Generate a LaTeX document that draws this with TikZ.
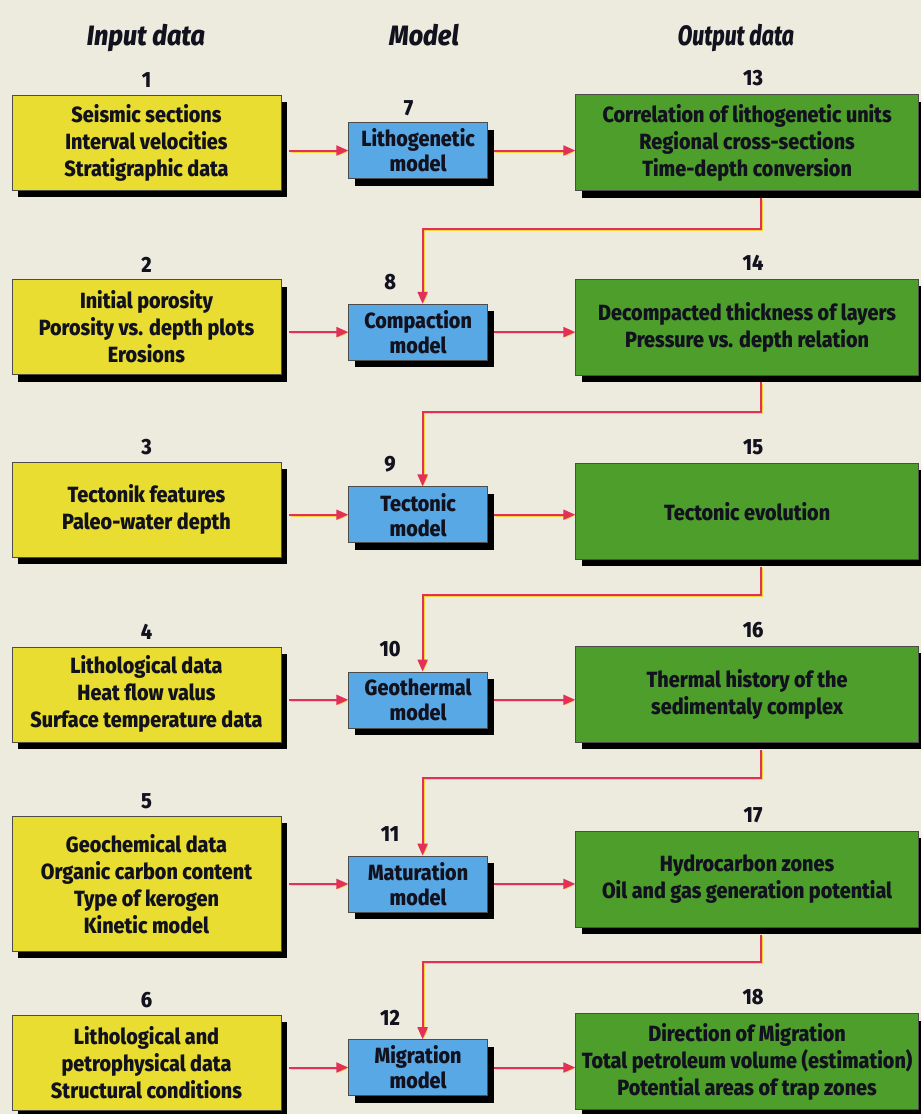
\documentclass[tikz,border=0pt]{standalone}
\usepackage{fontspec}
\setmainfont{Fira Sans}[FakeStretch=0.9, BoldFont={Fira Sans ExtraBold}, BoldItalicFont={Fira Sans ExtraBold Italic}]
\usepackage{tikz}
\usetikzlibrary{positioning,arrows.meta,shadows}

\definecolor{paper}{RGB}{237,234,222}
\definecolor{inyellow}{RGB}{232,221,48}
\definecolor{modblue}{RGB}{88,168,230}
\definecolor{outgreen}{RGB}{78,158,44}
\definecolor{ink}{RGB}{18,18,30}
\definecolor{linkred}{RGB}{226,48,88}
\definecolor{linkyellow}{RGB}{246,214,58}

\tikzstyle{boxbase} = [rectangle, draw=black!70, line width=0.6pt, text=ink, align=center,
                       font=\bfseries\fontsize{22}{27}\selectfont,
                       drop shadow={shadow xshift=6pt, shadow yshift=-7pt, fill=black, opacity=1}]
\tikzstyle{input} = [boxbase, fill=inyellow, minimum width=269pt, minimum height=95pt]
\tikzstyle{model} = [boxbase, fill=modblue, minimum width=139pt, minimum height=56pt,
                     font=\bfseries\fontsize{22}{25}\selectfont]
\tikzstyle{output} = [boxbase, fill=outgreen, minimum width=343pt, minimum height=96pt]
\tikzstyle{num} = [text=ink, inner sep=0pt, font=\bfseries\fontsize{22}{22}\selectfont]
\tikzstyle{heading} = [text=ink, inner sep=0pt, anchor=base, font=\bfseries\itshape\fontsize{28}{28}\selectfont]
\tikzstyle{arrow} = [line width=2pt, draw=linkred, -{Triangle[length=12pt, width=10pt]},
                     preaction={draw=linkyellow, transform canvas={shift={(1.2pt,-1.2pt)}}}]

\begin{document}
\begin{tikzpicture}[x=1pt, y=1pt]

		\fill [paper] (0,0) rectangle (921,-1114);
		\useasboundingbox (0,0) rectangle (921,-1114);

		% Column headings
		\node (head_in) [heading] at (146,-45) {Input data};
		\node (head_mod) [heading] at (424,-45) {Model};
		\node (head_out) [heading] at (736,-45) {\addfontfeature{FakeStretch=0.76}Output data};

		% Input boxes
		\node (seis_in) [input] at (146.5,-142.5) {Seismic sections\\Interval velocities\\Stratigraphic data};
		\node (poro_in) [input, below=89pt of seis_in] {Initial porosity\\Porosity vs. depth plots\\Erosions};
		\node (tect_in) [input, below=87pt of poro_in] {Tectonik features\\Paleo-water depth};
		\node (heat_in) [input, below=89pt of tect_in] {Lithological data\\Heat flow valus\\Surface temperature data};
		\node (geoch_in) [input, minimum height=135pt, below=74pt of heat_in] {Geochemical data\\Organic carbon content\\Type of kerogen\\Kinetic model};
		\node (petro_in) [input, below=63pt of geoch_in] {Lithological and\\petrophysical data\\Structural conditions};

		% Models
		\node (litho_mod) [model, right=67pt of seis_in, yshift=-8pt] {Lithogenetic\\model};
		\node (compact_mod) [model, right=67pt of poro_in, yshift=-5pt] {Compaction\\model};
		\node (tect_mod) [model, right=67pt of tect_in, yshift=-5pt] {Tectonic\\model};
		\node (geoth_mod) [model, right=67pt of heat_in, yshift=-5.5pt] {Geothermal\\model};
		\node (matur_mod) [model, right=67pt of geoch_in] {Maturation\\model};
		\node (migr_mod) [model, right=67pt of petro_in, yshift=-5pt] {Migration\\model};

		% Output boxes
		\node (correl_out) [output, right=294pt of seis_in] {Correlation of lithogenetic units\\Regional cross-sections\\Time-depth conversion};
		\node (decomp_out) [output, right=294pt of poro_in] {Decompacted thickness of layers\\Pressure vs. depth relation};
		\node (tectevo_out) [output, right=294pt of tect_in, yshift=-1.5pt] {Tectonic evolution};
		\node (thermal_out) [output, right=294pt of heat_in] {Thermal history of the\\sedimentaly complex};
		\node (hydroc_out) [output, right=294pt of geoch_in, yshift=4.5pt] {Hydrocarbon zones\\Oil and gas generation potential};
		\node (migdir_out) [output, right=294pt of petro_in, yshift=1pt] {Direction of Migration\\Total petroleum volume (estimation)\\Potential areas of trap zones};

		% Numbers
		\node (n1) [num, above=7pt of seis_in] {1};
		\node (n2) [num, above=7pt of poro_in] {2};
		\node (n3) [num, above=7pt of tect_in] {3};
		\node (n4) [num, above=7pt of heat_in] {4};
		\node (n5) [num, above=7pt of geoch_in] {5};
		\node (n6) [num, above=7pt of petro_in] {6};

		\node (n7) [num, above=6.5pt of litho_mod, xshift=-9.5pt] {7};
		\node (n8) [num, above=14pt of compact_mod, xshift=-28pt] {8};
		\node (n9) [num, above=14pt of tect_mod, xshift=-28pt] {9};
		\node (n10) [num, above=14pt of geoth_mod, xshift=-28pt] {10};
		\node (n11) [num, above=14pt of matur_mod, xshift=-28pt] {11};
		\node (n12) [num, above=14pt of migr_mod, xshift=-28pt] {12};

		\node (n13) [num, above=8pt of correl_out, xshift=6pt] {13};
		\node (n14) [num, above=8pt of decomp_out, xshift=6pt] {14};
		\node (n15) [num, above=8pt of tectevo_out, xshift=6pt] {15};
		\node (n16) [num, above=8pt of thermal_out, xshift=6pt] {16};
		\node (n17) [num, above=8pt of hydroc_out, xshift=6pt] {17};
		\node (n18) [num, above=8pt of migdir_out, xshift=6pt] {18};

		% Arrows: input -> model
		\draw [arrow, shorten <=8pt] (seis_in.east |- litho_mod) -- (litho_mod.west);
		\draw [arrow, shorten <=8pt] (poro_in.east |- compact_mod) -- (compact_mod.west);
		\draw [arrow, shorten <=8pt] (tect_in.east |- tect_mod) -- (tect_mod.west);
		\draw [arrow, shorten <=8pt] (heat_in.east |- geoth_mod) -- (geoth_mod.west);
		\draw [arrow, shorten <=8pt] (geoch_in.east |- matur_mod) -- (matur_mod.west);
		\draw [arrow, shorten <=8pt] (petro_in.east |- migr_mod) -- (migr_mod.west);

		% Arrows: model -> output
		\draw [arrow, shorten <=6pt] (litho_mod.east) -- (litho_mod -| correl_out.west);
		\draw [arrow, shorten <=6pt] (compact_mod.east) -- (compact_mod -| decomp_out.west);
		\draw [arrow, shorten <=6pt] (tect_mod.east) -- (tect_mod -| tectevo_out.west);
		\draw [arrow, shorten <=6pt] (geoth_mod.east) -- (geoth_mod -| thermal_out.west);
		\draw [arrow, shorten <=6pt] (matur_mod.east) -- (matur_mod -| hydroc_out.west);
		\draw [arrow, shorten <=6pt] (migr_mod.east) -- (migr_mod -| migdir_out.west);

		% Arrows: output feeds the next model
		\draw [arrow] ([xshift=14pt, yshift=-7pt]correl_out.south) -- ++(0,-31) -| ([xshift=4.5pt]compact_mod.north);
		\draw [arrow] ([xshift=14pt, yshift=-7pt]decomp_out.south) -- ++(0,-30) -| ([xshift=4.5pt]tect_mod.north);
		\draw [arrow] ([xshift=14pt, yshift=-7pt]tectevo_out.south) -- ++(0,-28) -| ([xshift=4.5pt]geoth_mod.north);
		\draw [arrow] ([xshift=14pt, yshift=-7pt]thermal_out.south) -- ++(0,-28) -| ([xshift=4.5pt]matur_mod.north);
		\draw [arrow] ([xshift=14pt, yshift=-7pt]hydroc_out.south) -- ++(0,-27) -| ([xshift=4.5pt]migr_mod.north);
	\end{tikzpicture}
\end{document}
